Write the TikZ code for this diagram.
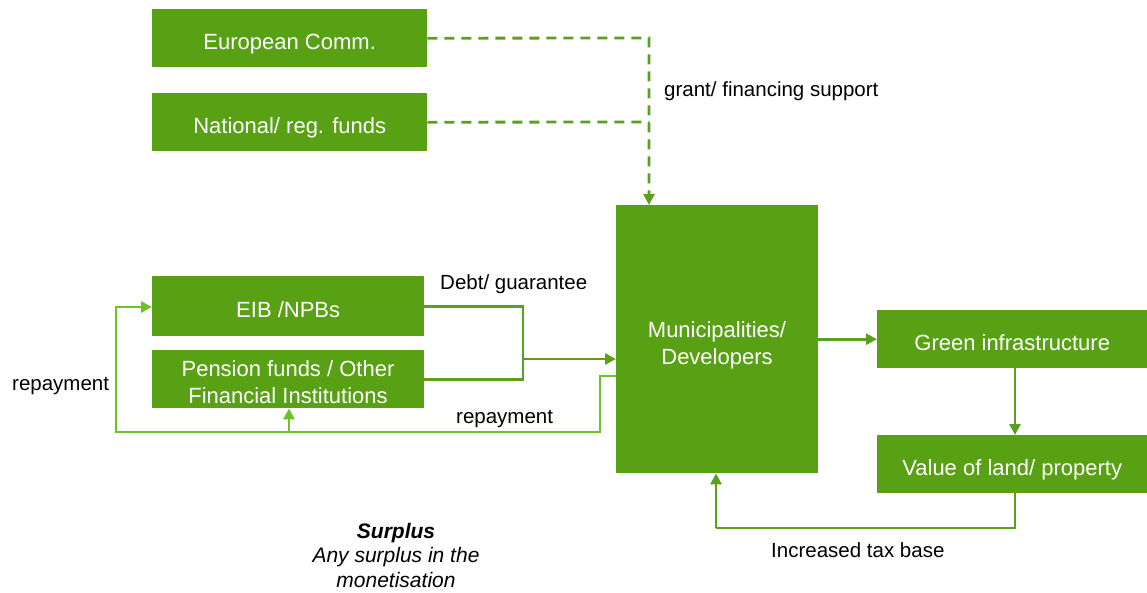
\documentclass[tikz,border=0pt]{standalone}
\usepackage{fontspec}
\setmainfont{Liberation Sans}
\usetikzlibrary{arrows.meta}
\definecolor{boxg}{RGB}{88,160,20}
\definecolor{lineg}{RGB}{90,160,30}
\definecolor{lightg}{RGB}{108,194,40}
\tikzset{
  gfill/.style={fill=boxg, draw=none, inner sep=0pt, anchor=north west},
  gbox/.style={gfill, text=white, align=center, font=\fontsize{22}{27}\selectfont, text height=21.8pt, text depth=0pt},
  gtext/.style={text=white, align=center, font=\fontsize{22}{27}\selectfont, inner sep=0pt},
  tip/.style={-{Triangle[length=11pt,width=11pt]}},
  conn/.style={draw=lineg, line width=2.8pt, tip},
  plainconn/.style={draw=lineg, line width=2.8pt},
  dconn/.style={draw=lineg, line width=2.8pt, dash pattern=on 10pt off 7pt},
  rconn/.style={draw=lightg, line width=2.8pt},
  lbl/.style={font=\fontsize{20.5}{24}\selectfont, text=black, inner sep=0pt}
}
\begin{document}
\begin{tikzpicture}[x=1pt,y=-1pt]
\useasboundingbox (0,0) rectangle (1147,592);
\node[gbox, minimum width=275pt, minimum height=58pt] (ec) at (152,9) {European Comm.};
\node[gbox, minimum width=275pt, minimum height=58pt] (nat) at (152,93) {National/ reg. funds};
\node[gbox, minimum width=272pt, minimum height=60pt] (eib) at (152,276) {EIB /NPBs};
\node[gfill, minimum width=272pt, minimum height=58pt] (pen) at (152,350) {};
\node[gtext] (pentext) at (288,382) {Pension funds / Other\\Financial Institutions};
\node[gfill, minimum width=202pt, minimum height=268pt] (mun) at (616,205) {};
\node[gtext] (muntext) at (717,345) {Municipalities/\\Developers};
\node[gbox, minimum width=270pt, minimum height=58pt] (gi) at (877,310) {Green infrastructure};
\node[gbox, minimum width=270pt, minimum height=58pt] (val) at (877,435) {Value of land/ property};

\coordinate (dj) at (649,38);
\coordinate (dj2) at (649,122);
\coordinate (mj) at (523,359);
\coordinate (r1) at (600,376);
\coordinate (r2) at (600,432);
\coordinate (r3) at (116,432);
\coordinate (r4) at (116,307);
\coordinate (rp) at (289,432);
\coordinate (t1) at (1015,528);
\coordinate (t2) at (716,528);

% dashed grant lines
\draw[dconn, tip] (ec.east) -- (dj) -- (dj |- mun.north);
\draw[dconn] (nat.east) -- (dj2);

% debt lines
\draw[plainconn] (eib.east) -- (eib.east -| mj) -- (pen.east -| mj) -- (pen.east);
\draw[conn] (mj) -- (mj -| mun.west);

% repayment
\draw[rconn, tip] (mun.west |- r1) -- (r1) -- (r2) -- (r3) -- (r4) -- (r4 -| eib.west);
\draw[rconn, tip] (rp) -- (rp |- pen.south);

% right side
\draw[conn] (mun.east |- gi.west) -- (gi.west);
\draw[conn] (gi.south -| t1) -- (val.north -| t1);
\draw[plainconn] (val.south -| t1) -- (t1) -- (t2);
\draw[conn] (t2) -- (t2 |- mun.south);

% labels
\node[lbl, anchor=west] (l1) at (664,91) {grant/ financing support};
\node[lbl, anchor=west] (l2) at (440,284) {Debt/ guarantee};
\node[lbl, anchor=west] (l3) at (12,386) {repayment};
\node[lbl, anchor=west] (l4) at (456,419) {repayment};
\node[lbl, anchor=west] (l5) at (771,550) {Increased tax base};
\node[lbl, align=center, font=\fontsize{21}{24.5}\selectfont\itshape] (l6) at (396,555) {\textbf{Surplus}\\Any surplus in the\\monetisation};
\end{tikzpicture}
\end{document}
